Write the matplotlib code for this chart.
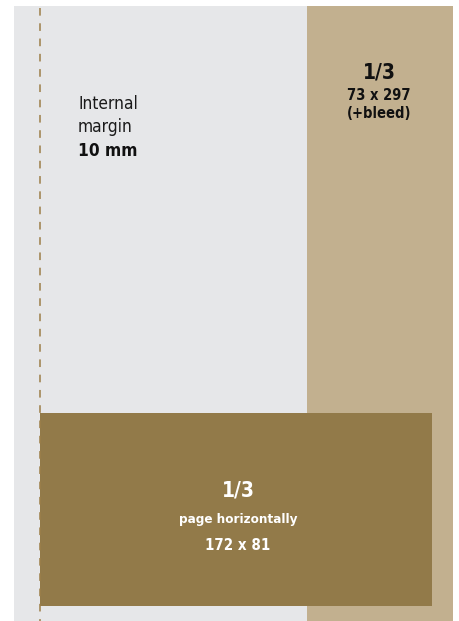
import matplotlib.pyplot as plt
from matplotlib.patches import Rectangle

W, H = 459, 621

# page areas (pixel units, y downwards)
areas = ["page", "vertical_third", "horizontal_third"]
area_x = [14, 307, 40]
area_y = [6, 6, 413]
area_w = [293, 146, 392]
area_h = [615, 615, 193]
area_colors = ["#e6e7e9", "#c2b08f", "#927a49"]

margin_x = 40
margin_label = ["Internal", "margin", "10 mm"]
vertical_label = ["1/3", "73 x 297", "(+bleed)"]
horizontal_label = ["1/3", "page horizontally", "172 x 81"]

FONT = ["DejaVu Sans"]
ST = "condensed"

fig = plt.figure(figsize=(W / 100, H / 100), dpi=100)
ax = fig.add_axes([0, 0, 1, 1])
ax.set_xlim(0, W)
ax.set_ylim(H, 0)
ax.axis("off")

for x, y, w, h, c in zip(area_x, area_y, area_w, area_h, area_colors):
    ax.add_patch(Rectangle((x, y), w, h, facecolor=c, edgecolor="none"))

# dashed margin line
ax.plot([margin_x, margin_x], [8, H], color="#9c7e48", linewidth=1.1,
        linestyle=(0, (5, 5)), zorder=3)

# internal margin text
ax.text(78, 104, margin_label[0], fontsize=12.4, family=FONT, stretch=ST,
        color="#1a1a1a", va="center", ha="left")
ax.text(78, 127, margin_label[1], fontsize=12.4, family=FONT, stretch=ST,
        color="#1a1a1a", va="center", ha="left")
ax.text(78, 151, margin_label[2], fontsize=12.4, family=FONT, stretch=ST,
        color="#111111", va="center", ha="left", fontweight="bold")

# vertical third
cx = area_x[1] + area_w[1] / 2 - 1
ax.text(cx, 72, vertical_label[0], fontsize=15, family=FONT, stretch=ST,
        color="#111111", ha="center", va="center", fontweight="bold")
ax.text(cx, 95, vertical_label[1], fontsize=10.5, family=FONT, stretch=ST,
        color="#111111", ha="center", va="center", fontweight="bold")
ax.text(cx, 113, vertical_label[2], fontsize=10.5, family=FONT, stretch=ST,
        color="#111111", ha="center", va="center", fontweight="bold")

# horizontal third
cx = area_x[2] + area_w[2] / 2 + 2
ax.text(cx, 490, horizontal_label[0], fontsize=15, family=FONT, stretch=ST,
        color="white", ha="center", va="center", fontweight="bold")
ax.text(cx, 520, horizontal_label[1], fontsize=9.6, family=FONT, stretch=ST,
        color="white", ha="center", va="center", fontweight="bold")
ax.text(cx, 545, horizontal_label[2], fontsize=10.8, family=FONT, stretch=ST,
        color="white", ha="center", va="center", fontweight="bold")

fig.savefig("out.png", dpi=100)
